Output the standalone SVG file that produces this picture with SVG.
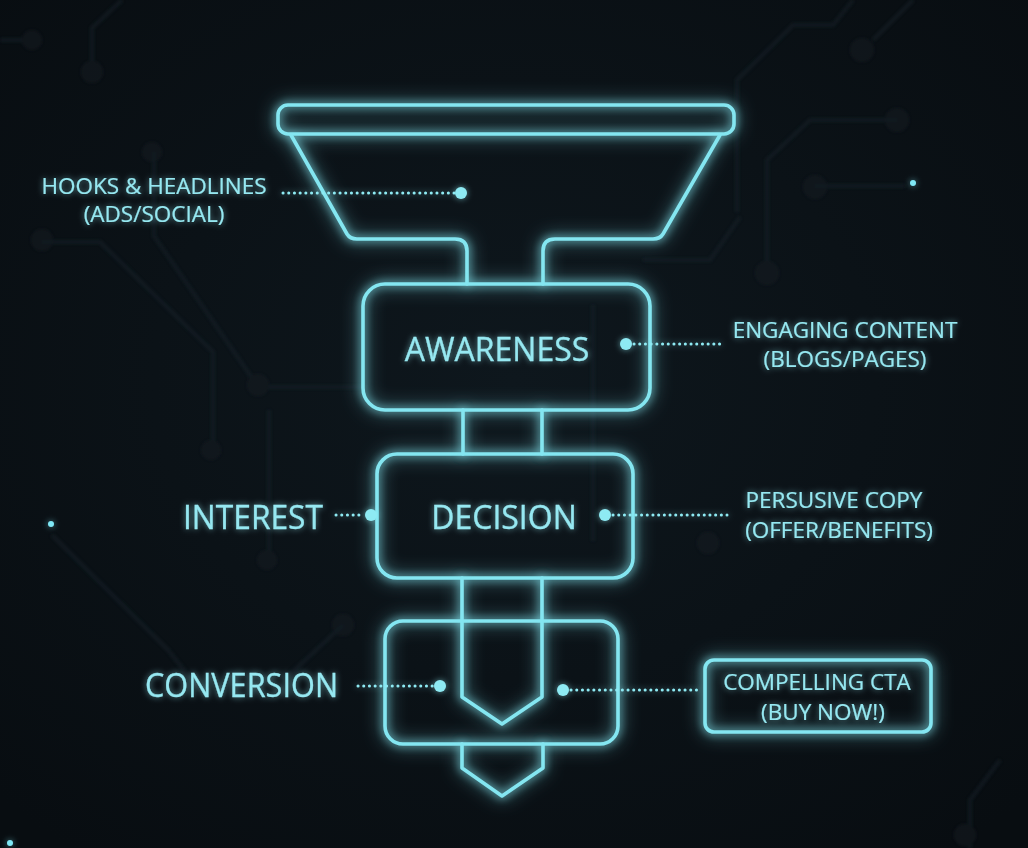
<svg xmlns="http://www.w3.org/2000/svg" width="1028" height="848" viewBox="0 0 1028 848">
  <defs>
    <radialGradient id="bg" cx="50%" cy="45%" r="70%">
      <stop offset="0" stop-color="#0e171d"/>
      <stop offset="1" stop-color="#080d11"/>
    </radialGradient>
    <filter id="glow" filterUnits="userSpaceOnUse" x="0" y="0" width="1028" height="848">
      <feGaussianBlur in="SourceGraphic" stdDeviation="4" result="b1"/>
      <feGaussianBlur in="SourceGraphic" stdDeviation="9" result="b2"/>
      <feMerge>
        <feMergeNode in="b2"/>
        <feMergeNode in="b1"/>
        <feMergeNode in="SourceGraphic"/>
      </feMerge>
    </filter>
    <filter id="tglow" filterUnits="userSpaceOnUse" x="0" y="0" width="1028" height="848">
      <feGaussianBlur in="SourceGraphic" stdDeviation="3" result="b"/>
      <feComponentTransfer in="b" result="bf"><feFuncA type="linear" slope="0.6"/></feComponentTransfer>
      <feMerge>
        <feMergeNode in="bf"/>
        <feMergeNode in="SourceGraphic"/>
      </feMerge>
    </filter>
    <filter id="soft" filterUnits="userSpaceOnUse" x="0" y="0" width="1028" height="848">
      <feGaussianBlur stdDeviation="1.5"/>
    </filter>
    <style>
      .ln { fill: none; stroke: #84e6f1; stroke-width: 3.6; stroke-linejoin: round; stroke-linecap: round; }
      .dot { fill: #8eeaf3; }
      .dl { fill: none; stroke: #8eeaf3; stroke-width: 3; stroke-linecap: round; stroke-dasharray: 0.1 5.6; }
      .big { font-family: "Open Sans", "Noto Sans", sans-serif; font-size: 32px; fill: #96e8f1; stroke: #96e8f1; stroke-width: 0.3; }
      .sm { font-family: "Open Sans", "Noto Sans", sans-serif; font-size: 22.5px; fill: #96e8f1; stroke: #96e8f1; stroke-width: 0.2; }
      .trace { fill: none; stroke: #15222a; stroke-width: 4; stroke-linejoin: round; }
      .pad { fill: #121d24; }
      .spark { fill: #7fe8f6; }
    </style>
  </defs>

  <rect x="0" y="0" width="1028" height="848" fill="url(#bg)"/>

  <!-- faint background circuit traces -->
  <g id="background" filter="url(#soft)" opacity="0.5">
    <path class="trace" d="M0,40 H30"/>
    <circle class="pad" cx="32" cy="40" r="10"/>
    <path class="trace" d="M122,0 L92,28 V70"/>
    <circle class="pad" cx="92" cy="72" r="11"/>
    <circle class="pad" cx="42" cy="240" r="11"/>
    <path class="trace" d="M42,242 H100 L213,352 V450"/>
    <circle class="pad" cx="211" cy="450" r="10"/>
    <circle class="pad" cx="152" cy="152" r="10"/>
    <path class="trace" d="M154,152 V236 L252,378 L258,387 H366"/>
    <circle class="pad" cx="258" cy="385" r="11"/>
    <path class="trace" d="M269,410 V560"/>
    <circle class="pad" cx="267" cy="560" r="10"/>
    <circle class="pad" cx="343" cy="625" r="11"/>
    <path class="trace" d="M343,625 L287,677"/>
    <path class="trace" d="M52,535 L168,650 L200,690"/>
    <path class="trace" d="M853,0 L833,25 H793 L737,80 V212"/>
    <circle class="pad" cx="862" cy="50" r="12"/>
    <path class="trace" d="M873,40 L913,0"/>
    <circle class="pad" cx="897" cy="120" r="12"/>
    <path class="trace" d="M897,120 H810 L767,160 V273"/>
    <circle class="pad" cx="767" cy="273" r="12"/>
    <circle class="pad" cx="815" cy="187" r="12"/>
    <path class="trace" d="M815,186 H905"/>
    <path class="trace" d="M740,217 L710,260 H643"/>
    <path class="trace" d="M593,305 V541"/>
    <circle class="pad" cx="708" cy="543" r="11"/>
    <path class="trace" d="M1000,760 L970,800 V848"/>
    <circle class="pad" cx="965" cy="835" r="11"/>
  </g>
  <g id="sparks" filter="url(#tglow)">
    <circle class="spark" cx="913" cy="183" r="3"/>
    <circle class="spark" cx="51" cy="524" r="3"/>
    <circle class="spark" cx="10" cy="843" r="3"/>
  </g>

  <!-- funnel -->
  <g id="funnel-top" filter="url(#glow)">
    <rect class="ln" x="278" y="105" width="456" height="29" rx="10"/>
    <path class="ln" d="M291,135 L347,234 Q350,239 357,239 L455,239 Q467,239 467,251 L467,284"/>
    <path class="ln" d="M720,135 L663,234 Q660,239 653,239 L555,239 Q543,239 543,251 L543,284"/>
  </g>

  <g id="awareness" filter="url(#glow)">
    <rect class="ln" x="363" y="284" width="287" height="126" rx="22"/>
  </g>
  <g id="awareness-label" filter="url(#tglow)">
    <text class="big" x="497" y="361" text-anchor="middle">AWARENESS</text>
  </g>

  <g id="decision" filter="url(#glow)">
    <rect class="ln" x="377" y="454" width="256" height="124" rx="20"/>
  </g>
  <g id="decision-label" filter="url(#tglow)">
    <text class="big" x="504" y="529" text-anchor="middle">DECISION</text>
  </g>

  <g id="conversion" filter="url(#glow)">
    <rect class="ln" x="385" y="621" width="233" height="123" rx="18"/>
  </g>

  <g id="cta" filter="url(#glow)">
    <rect class="ln" x="705" y="660" width="226" height="72" rx="9"/>
  </g>

  <!-- connectors: funnel stems, arrows and dotted leaders -->
  <g id="connectors">
    <g filter="url(#glow)">
      <path class="ln" d="M463,410 V454 M542,410 V454"/>
      <path class="ln" d="M462,578 V697 L502,724 L542,697 V578"/>
      <path class="ln" d="M462,744 V768 L502,796 L543,768 V744"/>
    </g>
    <g filter="url(#tglow)">
      <path class="dl" d="M283,193 H455"/>
      <circle class="dot" cx="461" cy="193" r="6"/>
      <circle class="dot" cx="626" cy="344" r="6"/>
      <path class="dl" d="M634,344 H722"/>
      <path class="dl" d="M336,515 H364"/>
      <circle class="dot" cx="371" cy="515" r="6"/>
      <circle class="dot" cx="605" cy="515" r="6"/>
      <path class="dl" d="M613,515 H727"/>
      <path class="dl" d="M358,686 H433"/>
      <circle class="dot" cx="440" cy="686" r="6"/>
      <circle class="dot" cx="563" cy="690" r="6"/>
      <path class="dl" d="M571,690 H697"/>
    </g>
  </g>

  <!-- labels -->
  <g id="labels" filter="url(#tglow)">
    <text class="sm" x="154" y="194" text-anchor="middle">HOOKS &amp; HEADLINES</text>
    <text class="sm" x="154" y="222" text-anchor="middle">(ADS/SOCIAL)</text>
    <text class="sm" x="845" y="338" text-anchor="middle">ENGAGING CONTENT</text>
    <text class="sm" x="845" y="367" text-anchor="middle">(BLOGS/PAGES)</text>
    <text class="big" x="183" y="529" textLength="140" lengthAdjust="spacingAndGlyphs">INTEREST</text>
    <text class="sm" x="834" y="508" text-anchor="middle">PERSUSIVE COPY</text>
    <text class="sm" x="839" y="538" text-anchor="middle">(OFFER/BENEFITS)</text>
    <text class="big" x="145" y="697" textLength="193" lengthAdjust="spacingAndGlyphs">CONVERSION</text>
    <text class="sm" x="817" y="690" text-anchor="middle">COMPELLING CTA</text>
    <text class="sm" x="823" y="720" text-anchor="middle">(BUY NOW!)</text>
  </g>
</svg>
